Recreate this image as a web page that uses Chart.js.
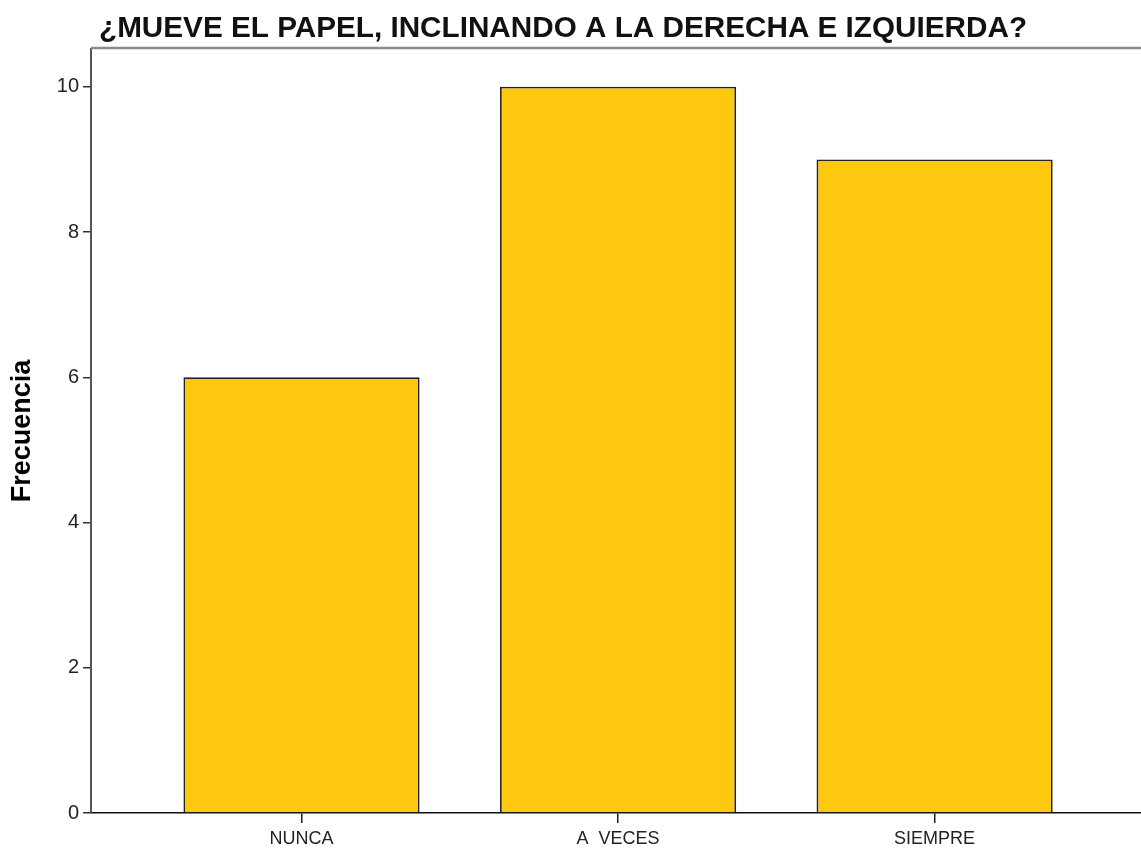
<!DOCTYPE html>
<html><head><meta charset="utf-8">
<script src="https://cdn.jsdelivr.net/npm/chart.js@4/dist/chart.umd.min.js"></script>
<style>html,body{margin:0;padding:0;background:#fff;overflow:hidden}#wrap{width:1141px;height:849px;position:relative}</style>
</head><body><div id="wrap"><canvas id="c" width="1141" height="849"></canvas></div>
<script>
const chartTitle = "¿MUEVE EL PAPEL, INCLINANDO A LA DERECHA E IZQUIERDA?";
const yAxisTitle = "Frecuencia";
const categories = ["NUNCA", "A  VECES", "SIEMPRE"];
const categoryPositions = [1, 2, 3];
const frecuencia = [6, 10, 9];
const yTicks = [0, 2, 4, 6, 8, 10];

const FONT = "'Liberation Sans', Arial, sans-serif";

const decor = {
  id: 'decor',
  afterDraw(chart) {
    const ctx = chart.ctx, a = chart.chartArea;
    ctx.save();
    ctx.strokeStyle = '#8c8c8c';
    ctx.lineWidth = 2.5;
    ctx.beginPath();
    ctx.moveTo(a.left, a.top - 1);
    ctx.lineTo(a.right, a.top - 1);
    ctx.stroke();
    ctx.fillStyle = '#111';
    ctx.font = "bold 29.7px " + FONT;
    ctx.textBaseline = 'alphabetic';
    ctx.textAlign = 'left';
    ctx.fillText(chartTitle, 99, 37);
    ctx.restore();
  }
};

new Chart(document.getElementById('c'), {
  type: 'bar',
  data: {
    datasets: [{
      data: frecuencia.map((v, i) => ({x: categoryPositions[i], y: v})),
      backgroundColor: '#FDC80F',
      borderColor: '#222',
      borderWidth: 1.8,
      borderSkipped: 'bottom',
      categoryPercentage: 1,
      barPercentage: 0.746
    }]
  },
  options: {
    responsive: false,
    devicePixelRatio: 1,
    animation: false,
    layout: {padding: {top: 49, right: 0, left: 0, bottom: 0}},
    plugins: {legend: {display: false}, tooltip: {enabled: false}, title: {display: false}},
    scales: {
      x: {
        type: 'linear',
        offset: false,
        bounds: 'data',
        min: 0.335,
        max: 3.652,
        afterBuildTicks: s => { s.ticks = categoryPositions.map(v => ({value: v})); },
        afterFit: s => { s.height = 36; },
        ticks: {
          autoSkip: false,
          maxRotation: 0,
          padding: 5,
          color: '#222',
          font: {family: FONT, size: 18},
          callback: v => categories[categoryPositions.indexOf(v)]
        },
        grid: {display: true, offset: false, drawOnChartArea: false, drawTicks: true, tickLength: 10, color: '#222', lineWidth: 1.5},
        border: {display: true, color: '#111', width: 1.5}
      },
      y: {
        type: 'linear',
        min: 0,
        max: 10.52,
        afterBuildTicks: s => { s.ticks = yTicks.map(v => ({value: v})); },
        afterFit: s => { s.width = 91; },
        ticks: {padding: 4, color: '#222', font: {family: FONT, size: 20}},
        grid: {display: true, drawOnChartArea: false, drawTicks: true, tickLength: 8, color: '#333', lineWidth: 1.5},
        border: {display: true, color: '#555', width: 2},
        title: {display: true, text: yAxisTitle, color: '#000', font: {family: FONT, size: 27, weight: 'bold'}, padding: {top: 6, bottom: 0}}
      }
    }
  },
  plugins: [decor]
});
</script></body></html>
